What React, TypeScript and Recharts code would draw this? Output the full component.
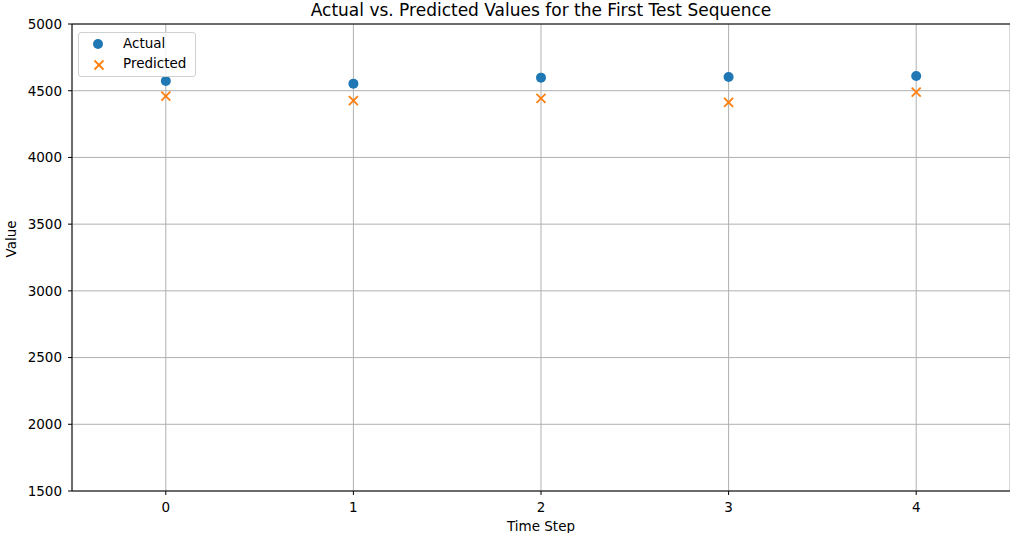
import { ScatterChart, Scatter, XAxis, YAxis, CartesianGrid, ReferenceLine } from 'recharts';

const timeSteps = [0, 1, 2, 3, 4];
const actualValues = [4573, 4553, 4598, 4603, 4610];
const predictedValues = [4460, 4425, 4443, 4413, 4490];
const yTicks = [1500, 2000, 2500, 3000, 3500, 4000, 4500, 5000];

const actualData = timeSteps.map((t, i) => ({ x: t, y: actualValues[i] }));
const predictedData = timeSteps.map((t, i) => ({ x: t, y: predictedValues[i] }));

const FONT = '"DejaVu Sans", sans-serif';
const BLUE = '#1f77b4';
const ORANGE = '#ff7f0e';

const Dot = (props: any) => {
  const { cx, cy } = props;
  return <circle cx={cx} cy={cy} r={5} fill={BLUE} />;
};

const Cross = (props: any) => {
  const { cx, cy } = props;
  const d = 4.5;
  return (
    <g stroke={ORANGE} strokeWidth={1.8}>
      <line x1={cx - d} y1={cy - d} x2={cx + d} y2={cy + d} />
      <line x1={cx - d} y1={cy + d} x2={cx + d} y2={cy - d} />
    </g>
  );
};

// matplotlib-style legend box in the upper left corner
const LegendBox = () => (
  <div
    style={{
      position: 'absolute',
      left: 78,
      top: 32,
      width: 118,
      height: 45,
      border: '1px solid #d0d0d0',
      borderRadius: 3,
      background: 'rgba(255,255,255,0.8)',
      boxSizing: 'border-box',
    }}
  >
    <svg width={118} height={45} style={{ position: 'absolute', left: -1, top: -1 }}>
      <circle cx={20} cy={12} r={5} fill={BLUE} />
      <g stroke={ORANGE} strokeWidth={1.8}>
        <line x1={16.5} y1={28.5} x2={25.5} y2={37.5} />
        <line x1={16.5} y1={37.5} x2={25.5} y2={28.5} />
      </g>
      <text x={45} y={16} fontFamily={FONT} fontSize={13.5} fill="#000">Actual</text>
      <text x={45} y={36} fontFamily={FONT} fontSize={13.5} fill="#000">Predicted</text>
    </svg>
  </div>
);

export default function App() {
  return (
    <div style={{ position: 'absolute', left: 0, top: 0, width: 1010, height: 533, background: '#fff', overflow: 'hidden' }}>
      <div
        style={{
          position: 'absolute',
          left: 0,
          width: 1082,
          top: 0,
          textAlign: 'center',
          fontFamily: FONT,
          fontSize: 17,
          color: '#000',
        }}
      >
        Actual vs. Predicted Values for the First Test Sequence
      </div>
      <ScatterChart width={1010} height={533} margin={{ top: 24, right: 0, bottom: 0, left: 0 }}>
        <CartesianGrid stroke="#b0b0b0" strokeWidth={1} />
        <XAxis
          type="number"
          dataKey="x"
          domain={[-0.5, 4.5]}
          allowDataOverflow={true}
          ticks={timeSteps}
          height={42}
          stroke="#000"
          tickSize={4}
          tickMargin={7}
          tick={{ fill: '#000', fontFamily: FONT, fontSize: 13.5 }}
          label={{ value: 'Time Step', position: 'insideBottom', offset: 2, fill: '#000', fontFamily: FONT, fontSize: 13.5 }}
        />
        <YAxis
          type="number"
          dataKey="y"
          domain={[1500, 5000]}
          allowDataOverflow={true}
          ticks={yTicks}
          width={72}
          stroke="#000"
          tickSize={4}
          tickMargin={6}
          tick={{ fill: '#000', fontFamily: FONT, fontSize: 13.5 }}
          label={{ value: 'Value', angle: -90, position: 'insideLeft', offset: 11, fill: '#000', fontFamily: FONT, fontSize: 13.5 }}
        />
        <ReferenceLine y={5000} stroke="#000" strokeWidth={1} />
        <Scatter name="Actual" data={actualData} fill={BLUE} shape={<Dot />} isAnimationActive={false} />
        <Scatter name="Predicted" data={predictedData} fill={ORANGE} shape={<Cross />} isAnimationActive={false} />
      </ScatterChart>
      <LegendBox />
    </div>
  );
}
